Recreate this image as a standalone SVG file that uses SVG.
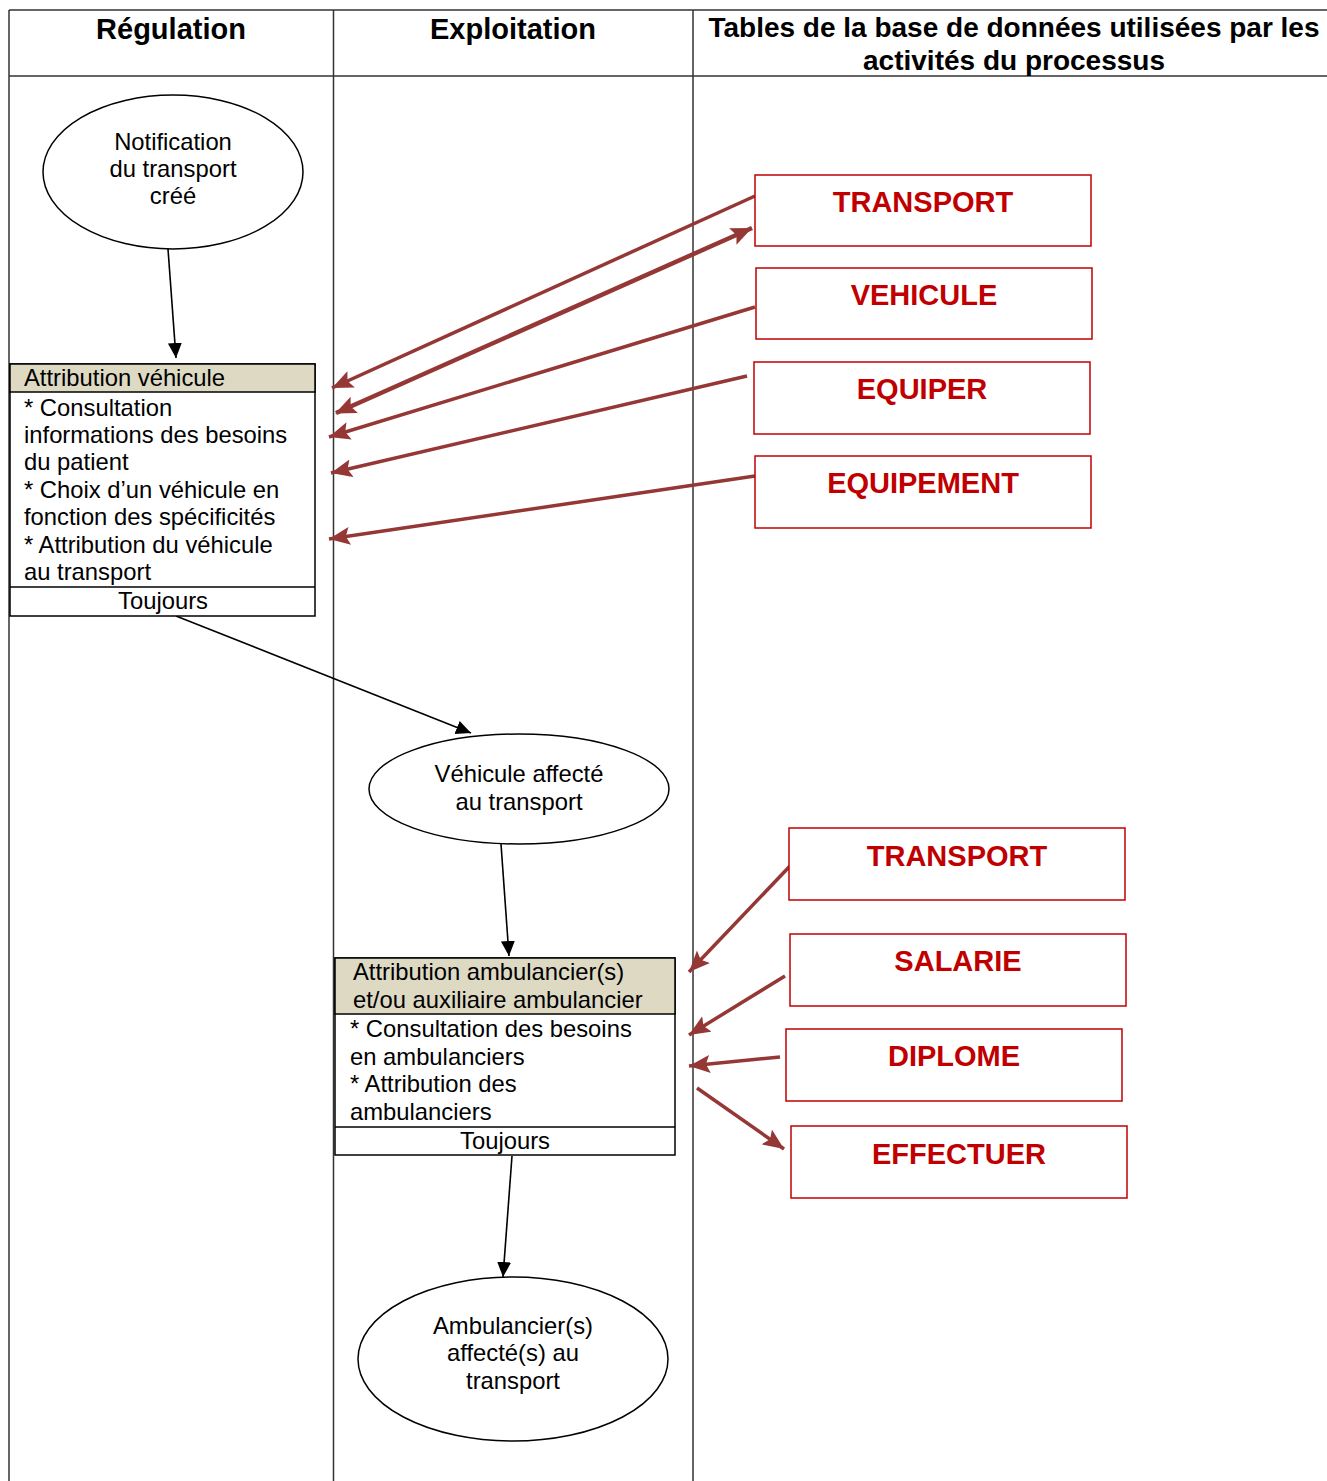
<svg xmlns="http://www.w3.org/2000/svg" width="1327" height="1481" viewBox="0 0 1327 1481">
<defs>
<style>
.grid{stroke:#333;stroke-width:1.5;fill:none}
.hdr{font-family:"Liberation Sans",Arial,sans-serif;font-weight:bold;font-size:28px;fill:#000;text-anchor:middle}
.big{font-size:29px}
.txt{font-family:"Liberation Sans",Arial,sans-serif;font-size:23.8px;fill:#000}
.mid{text-anchor:middle}
.node{fill:#fff;stroke:#000;stroke-width:1.5}
.band{fill:#DDD9C3;stroke:#000;stroke-width:1.5}
.tbl{fill:#fff;stroke:#C00000;stroke-width:1.5}
.tbltxt{font-family:"Liberation Sans",Arial,sans-serif;font-weight:bold;font-size:29px;fill:#C00000;text-anchor:middle}
.flow{stroke:#000;stroke-width:1.6;fill:none;marker-end:url(#blk)}
.red{stroke:#953735;stroke-width:3.5;fill:none;marker-end:url(#redh)}
</style>
<marker id="blk" markerUnits="userSpaceOnUse" markerWidth="18" markerHeight="16" refX="15" refY="7" orient="auto">
<path d="M0,0 L15,7 L0,14 Z" fill="#000"/>
</marker>
<marker id="redh" markerUnits="userSpaceOnUse" markerWidth="24" markerHeight="20" refX="21" refY="9" orient="auto">
<path d="M0,0 L21,9 L0,18 L4,9 Z" fill="#953735"/>
</marker>
<marker id="redh2" markerUnits="userSpaceOnUse" markerWidth="24" markerHeight="20" refX="1" refY="9" orient="auto">
<path d="M21,0 L0,9 L21,18 L17,9 Z" fill="#953735"/>
</marker>
</defs>
<rect width="1327" height="1481" fill="#fff"/>

<g id="grid">
<line class="grid" x1="9" y1="10" x2="1327" y2="10"/>
<line class="grid" x1="9" y1="76" x2="1327" y2="76"/>
<line class="grid" x1="9" y1="10" x2="9" y2="1481"/>
<line class="grid" x1="333.5" y1="10" x2="333.5" y2="1481"/>
<line class="grid" x1="693" y1="10" x2="693" y2="1481"/>
<text class="hdr big" x="171" y="39">Régulation</text>
<text class="hdr big" x="513" y="39">Exploitation</text>
<text class="hdr" x="1014" y="37">Tables de la base de données utilisées par les</text>
<text class="hdr" x="1014" y="70">activités du processus</text>
</g>

<g id="connectors">
<line class="flow" x1="168" y1="249" x2="176" y2="358"/>
<line class="flow" x1="176" y1="616" x2="471" y2="733"/>
<line class="flow" x1="501" y1="844" x2="509" y2="956"/>
<line class="flow" x1="512" y1="1156" x2="503" y2="1277"/>
<line class="red" x1="755" y1="196" x2="332" y2="388"/>
<line class="red" x1="336" y1="413" x2="752" y2="228" style="stroke-width:4.5;marker-start:url(#redh2)"/>
<line class="red" x1="755" y1="307" x2="329" y2="437"/>
<line class="red" x1="747" y1="376" x2="331" y2="473"/>
<line class="red" x1="755" y1="476" x2="329" y2="539"/>
<line class="red" x1="790" y1="866" x2="689" y2="972"/>
<line class="red" x1="785" y1="976" x2="689" y2="1035"/>
<line class="red" x1="780" y1="1057" x2="689" y2="1066"/>
<line class="red" x1="697" y1="1088" x2="784" y2="1149"/>
</g>

<g id="n-notification">
<ellipse class="node" cx="173" cy="172" rx="130" ry="77"/>
<text class="txt mid" x="173" y="150">Notification</text>
<text class="txt mid" x="173" y="177">du transport</text>
<text class="txt mid" x="173" y="204">créé</text>
</g>

<g id="n-attribution-vehicule">
<rect class="node" x="10" y="364" width="305" height="252"/>
<rect class="band" x="10" y="364" width="305" height="28"/>
<line class="grid" x1="10" y1="587" x2="315" y2="587" style="stroke:#000"/>
<text class="txt" x="24" y="386">Attribution véhicule</text>
<text class="txt" x="24" y="416">* Consultation</text>
<text class="txt" x="24" y="443">informations des besoins</text>
<text class="txt" x="24" y="470">du patient</text>
<text class="txt" x="24" y="498">* Choix d’un véhicule en</text>
<text class="txt" x="24" y="525">fonction des spécificités</text>
<text class="txt" x="24" y="553">* Attribution du véhicule</text>
<text class="txt" x="24" y="580">au transport</text>
<text class="txt mid" x="163" y="609">Toujours</text>
</g>

<g id="n-vehicule-affecte">
<ellipse class="node" cx="519" cy="789" rx="150" ry="55"/>
<text class="txt mid" x="519" y="782">Véhicule affecté</text>
<text class="txt mid" x="519" y="810">au transport</text>
</g>

<g id="n-attribution-ambulancier">
<rect class="node" x="335" y="958" width="340" height="197"/>
<rect class="band" x="335" y="958" width="340" height="56"/>
<line class="grid" x1="335" y1="1127" x2="675" y2="1127" style="stroke:#000"/>
<text class="txt" x="353" y="980">Attribution ambulancier(s)</text>
<text class="txt" x="353" y="1008">et/ou auxiliaire ambulancier</text>
<text class="txt" x="350" y="1037">* Consultation des besoins</text>
<text class="txt" x="350" y="1065">en ambulanciers</text>
<text class="txt" x="350" y="1092">* Attribution des</text>
<text class="txt" x="350" y="1120">ambulanciers</text>
<text class="txt mid" x="505" y="1149">Toujours</text>
</g>

<g id="n-ambulancier-affecte">
<ellipse class="node" cx="513" cy="1359" rx="155" ry="82"/>
<text class="txt mid" x="513" y="1334">Ambulancier(s)</text>
<text class="txt mid" x="513" y="1361">affecté(s) au</text>
<text class="txt mid" x="513" y="1389">transport</text>
</g>

<g id="t-transport-1"><rect class="tbl" x="755" y="175" width="336" height="71"/><text class="tbltxt" x="923" y="212">TRANSPORT</text></g>
<g id="t-vehicule"><rect class="tbl" x="756" y="268" width="336" height="71"/><text class="tbltxt" x="924" y="305">VEHICULE</text></g>
<g id="t-equiper"><rect class="tbl" x="754" y="362" width="336" height="72"/><text class="tbltxt" x="922" y="399">EQUIPER</text></g>
<g id="t-equipement"><rect class="tbl" x="755" y="456" width="336" height="72"/><text class="tbltxt" x="923" y="493">EQUIPEMENT</text></g>
<g id="t-transport-2"><rect class="tbl" x="789" y="828" width="336" height="72"/><text class="tbltxt" x="957" y="866">TRANSPORT</text></g>
<g id="t-salarie"><rect class="tbl" x="790" y="934" width="336" height="72"/><text class="tbltxt" x="958" y="971">SALARIE</text></g>
<g id="t-diplome"><rect class="tbl" x="786" y="1029" width="336" height="72"/><text class="tbltxt" x="954" y="1066">DIPLOME</text></g>
<g id="t-effectuer"><rect class="tbl" x="791" y="1126" width="336" height="72"/><text class="tbltxt" x="959" y="1164">EFFECTUER</text></g>
</svg>
